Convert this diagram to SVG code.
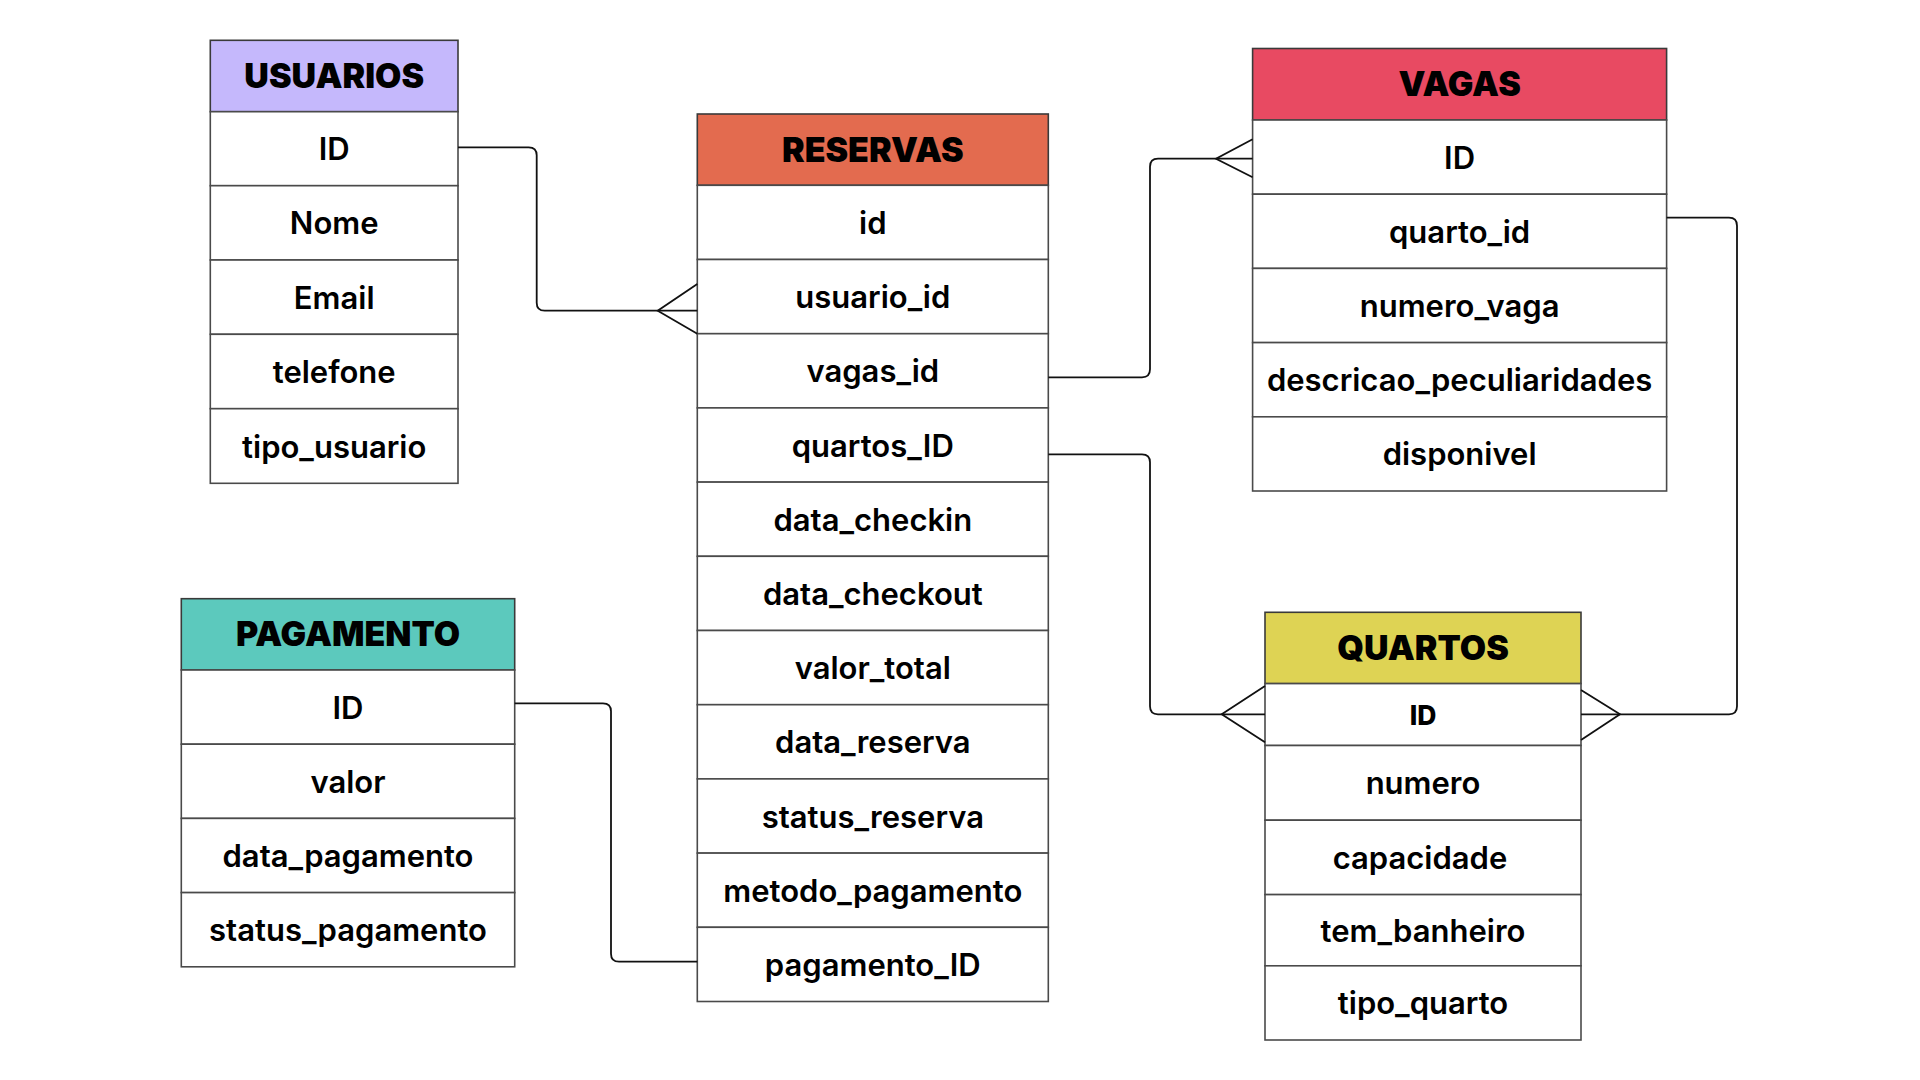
<svg xmlns="http://www.w3.org/2000/svg" width="1920" height="1080" viewBox="0 0 1920 1080">
<style>
.bg{fill:#ffffff}
.cell{fill:#ffffff;stroke:#4a4a4a;stroke-width:1.6}
.hdr{stroke:#3a3a3a;stroke-width:1.6}
.ht{font-family:Inter,"Liberation Sans",sans-serif;font-weight:900;font-size:34px;fill:#000;text-anchor:middle}
.rt{font-family:Inter,"Liberation Sans",sans-serif;font-weight:600;font-size:31px;fill:#000;text-anchor:middle}
.kt{font-family:Inter,"Liberation Sans",sans-serif;font-weight:800;font-size:26.5px;fill:#000;text-anchor:middle}
.cn{fill:none;stroke:#111;stroke-width:1.8;stroke-linejoin:miter}
</style>
<rect class="bg" x="0" y="0" width="1920" height="1080"/>

<g id="usuarios">
<rect class="hdr" x="210.3" y="40.3" width="247.7" height="71.4" fill="#C5B8FC"/>
<rect class="cell" x="210.3" y="111.7" width="247.7" height="74"/>
<rect class="cell" x="210.3" y="185.7" width="247.7" height="74.3"/>
<rect class="cell" x="210.3" y="260" width="247.7" height="74.3"/>
<rect class="cell" x="210.3" y="334.3" width="247.7" height="74.4"/>
<rect class="cell" x="210.3" y="408.7" width="247.7" height="74.6"/>
<text class="ht" x="334.2" y="88">USUARIOS</text>
<text class="rt" x="334.2" y="160.2">ID</text>
<text class="rt" x="334.2" y="234.4">Nome</text>
<text class="rt" x="334.2" y="308.7">Email</text>
<text class="rt" x="334.2" y="383">telefone</text>
<text class="rt" x="334.2" y="457.5">tipo_usuario</text>
</g>

<g id="reservas">
<rect class="hdr" x="697.3" y="114" width="351" height="71.3" fill="#E36B4F"/>
<rect class="cell" x="697.3" y="185.3" width="351" height="74.2"/>
<rect class="cell" x="697.3" y="259.5" width="351" height="74.2"/>
<rect class="cell" x="697.3" y="333.7" width="351" height="74.2"/>
<rect class="cell" x="697.3" y="407.9" width="351" height="74.2"/>
<rect class="cell" x="697.3" y="482.1" width="351" height="74.2"/>
<rect class="cell" x="697.3" y="556.3" width="351" height="74.2"/>
<rect class="cell" x="697.3" y="630.5" width="351" height="74.2"/>
<rect class="cell" x="697.3" y="704.7" width="351" height="74.2"/>
<rect class="cell" x="697.3" y="778.9" width="351" height="74.2"/>
<rect class="cell" x="697.3" y="853.1" width="351" height="74.2"/>
<rect class="cell" x="697.3" y="927.3" width="351" height="74.2"/>
<text class="ht" x="872.8" y="161.5">RESERVAS</text>
<text class="rt" x="872.8" y="233.9">id</text>
<text class="rt" x="872.8" y="308.1">usuario_id</text>
<text class="rt" x="872.8" y="382.3">vagas_id</text>
<text class="rt" x="872.8" y="456.5">quartos_ID</text>
<text class="rt" x="872.8" y="530.7">data_checkin</text>
<text class="rt" x="872.8" y="604.9">data_checkout</text>
<text class="rt" x="872.8" y="679.1">valor_total</text>
<text class="rt" x="872.8" y="753.3">data_reserva</text>
<text class="rt" x="872.8" y="827.5">status_reserva</text>
<text class="rt" x="872.8" y="901.7">metodo_pagamento</text>
<text class="rt" x="872.8" y="975.9">pagamento_ID</text>
</g>

<g id="vagas">
<rect class="hdr" x="1252.6" y="48.5" width="414" height="71.5" fill="#E84A62"/>
<rect class="cell" x="1252.6" y="120" width="414" height="74.2"/>
<rect class="cell" x="1252.6" y="194.2" width="414" height="74.2"/>
<rect class="cell" x="1252.6" y="268.4" width="414" height="74.2"/>
<rect class="cell" x="1252.6" y="342.6" width="414" height="74.2"/>
<rect class="cell" x="1252.6" y="416.8" width="414" height="74.2"/>
<text class="ht" x="1459.6" y="95.5">VAGAS</text>
<text class="rt" x="1459.6" y="168.6">ID</text>
<text class="rt" x="1459.6" y="242.8">quarto_id</text>
<text class="rt" x="1459.6" y="317">numero_vaga</text>
<text class="rt" x="1459.6" y="391.2">descricao_peculiaridades</text>
<text class="rt" x="1459.6" y="465.4">disponivel</text>
</g>

<g id="pagamento">
<rect class="hdr" x="181.3" y="598.7" width="333.4" height="71.3" fill="#5CC9BD"/>
<rect class="cell" x="181.3" y="670" width="333.4" height="74.2"/>
<rect class="cell" x="181.3" y="744.2" width="333.4" height="74.2"/>
<rect class="cell" x="181.3" y="818.4" width="333.4" height="74.2"/>
<rect class="cell" x="181.3" y="892.6" width="333.4" height="74.2"/>
<text class="ht" x="348" y="646">PAGAMENTO</text>
<text class="rt" x="348" y="718.6">ID</text>
<text class="rt" x="348" y="792.8">valor</text>
<text class="rt" x="348" y="867">data_pagamento</text>
<text class="rt" x="348" y="941.2">status_pagamento</text>
</g>

<g id="quartos">
<rect class="hdr" x="1265" y="612.3" width="316" height="71.3" fill="#DED354"/>
<rect class="cell" x="1265" y="683.6" width="316" height="61.9"/>
<rect class="cell" x="1265" y="745.5" width="316" height="74.7"/>
<rect class="cell" x="1265" y="820.2" width="316" height="74.4"/>
<rect class="cell" x="1265" y="894.6" width="316" height="71.2"/>
<rect class="cell" x="1265" y="965.8" width="316" height="74.2"/>
<text class="ht" x="1423" y="659.5">QUARTOS</text>
<text class="kt" x="1423" y="725">ID</text>
<text class="rt" x="1423" y="794.3">numero</text>
<text class="rt" x="1420" y="868.9">capacidade</text>
<text class="rt" x="1423" y="941.7">tem_banheiro</text>
<text class="rt" x="1423" y="1014.4">tipo_quarto</text>
</g>

<g id="connectors">
<path class="cn" d="M458,147.3 H528.7 Q536.7,147.3 536.7,155.3 V302.7 Q536.7,310.7 544.7,310.7 H697.3"/>
<path class="cn" d="M697.3,284 L657.7,310.7 L697.3,333.7"/>
<path class="cn" d="M1048.3,377.3 H1142 Q1150,377.3 1150,369.3 V166.7 Q1150,158.7 1158,158.7 H1252.6"/>
<path class="cn" d="M1252.6,139.3 L1216,158.7 L1252.6,177.3"/>
<path class="cn" d="M1048.3,454.3 H1142 Q1150,454.3 1150,462.3 V706.3 Q1150,714.3 1158,714.3 H1265"/>
<path class="cn" d="M1265,686 L1221.7,714.3 L1265,742.3"/>
<path class="cn" d="M1666.6,217.7 H1729 Q1737,217.7 1737,225.7 V706.3 Q1737,714.3 1729,714.3 H1581"/>
<path class="cn" d="M1581,690 L1620,714.3 L1581,740"/>
<path class="cn" d="M514.7,703.3 H603 Q611,703.3 611,711.3 V953.7 Q611,961.7 619,961.7 H697.3"/>
</g>
</svg>
